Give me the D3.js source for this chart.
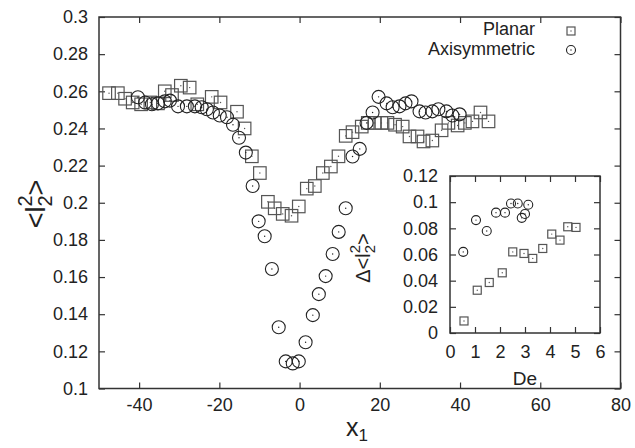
<!DOCTYPE html>
<html><head><meta charset="utf-8">
<script src="https://cdn.jsdelivr.net/npm/d3@7"></script>
<style>body{margin:0;background:#fff}svg{display:block}text{font-family:"Liberation Sans",Arial,sans-serif;fill:#222}</style>
</head><body>
<svg id="c" width="635" height="448"></svg>
<script>
// Main plot data: Planar (squares)
const planarX = [-47.5,-45.3,-43.5,-41.6,-39.5,-37.2,-35.3,-33.6,-31.8,-29.6,-27.4,-25.5,-21.9,-19.7,-15.6,-13.7,-11.9,-9.9,-7.9,-6.2,-4.2,-2.0,-0.2,1.8,3.8,5.8,7.8,9.7,11.5,13.2,15.5,17.0,18.7,20.4,21.9,23.8,25.7,27.4,29.4,30.9,33.1,35.4,37.1,39.4,41.2,43.1,45.1,47.1];
const planarY = [0.259,0.259,0.256,0.254,0.253,0.254,0.2535,0.260,0.258,0.263,0.262,0.253,0.257,0.254,0.249,0.240,0.225,0.216,0.2005,0.197,0.194,0.193,0.198,0.2076,0.209,0.216,0.2195,0.225,0.236,0.238,0.241,0.243,0.243,0.243,0.243,0.242,0.241,0.2357,0.2357,0.233,0.2335,0.239,0.243,0.2416,0.243,0.2438,0.2486,0.2438];
// Axisymmetric (circles)
const axiX = [-40.3,-38.5,-36.8,-35.3,-33.6,-32.3,-30.3,-28.1,-26.1,-24.4,-23.1,-21.6,-19.9,-18.1,-16.6,-15.1,-13.4,-11.7,-10.2,-8.7,-6.9,-5.2,-3.45,-1.7,-0.2,1.5,3.3,4.8,6.5,8.25,9.75,11.5,13.2,15.0,16.7,18.2,19.7,21.7,23.2,24.9,26.4,27.9,29.9,31.4,33.1,34.6,36.6,38.1,39.9];
const axiY = [0.2568,0.254,0.253,0.2535,0.2546,0.255,0.2519,0.2519,0.2519,0.2514,0.2503,0.2486,0.247,0.246,0.242,0.235,0.227,0.209,0.190,0.182,0.1643,0.133,0.1146,0.1135,0.1146,0.1249,0.1395,0.1508,0.1605,0.1724,0.1843,0.197,0.2249,0.229,0.243,0.2486,0.257,0.2535,0.2514,0.2519,0.2535,0.2546,0.2492,0.2486,0.2492,0.2503,0.2492,0.247,0.2476];
// Inset data
const insetPlanarDe = [0.56,1.09,1.57,2.09,2.51,2.96,3.31,3.71,4.07,4.4,4.71,5.04];
const insetPlanarD = [0.0092,0.0327,0.0386,0.046,0.062,0.0608,0.057,0.0646,0.0756,0.071,0.0812,0.0807];
const insetAxiDe = [0.53,1.04,1.47,1.84,2.2,2.44,2.71,2.87,3.0,3.13];
const insetAxiD = [0.062,0.0863,0.078,0.092,0.092,0.099,0.099,0.088,0.091,0.098];
// Ticks
const mainXTicks = [-40,-20,0,20,40,60,80];
const mainYTicks = [0.1,0.12,0.14,0.16,0.18,0.2,0.22,0.24,0.26,0.28,0.3];
const insetXTicks = [0,1,2,3,4,5,6];
const insetYTicks = [0,0.02,0.04,0.06,0.08,0.1,0.12];
const legendLabels = ["Planar","Axisymmetric"];

const svg = d3.select("#c");
const M = {l:99, r:620.5, t:17, b:388.5};
const x = d3.scaleLinear([-50,80],[M.l,M.r]);
const y = d3.scaleLinear([0.1,0.3],[M.b,M.t]);
const I = {l:450, r:600, t:176, b:333};
const ix = d3.scaleLinear([0,6],[I.l,I.r]);
const iy = d3.scaleLinear([0,0.12],[I.b,I.t]);

const sqCol = "#555", ciCol = "#222";
const fmt = d => String(+d.toFixed(2));

function styleAxis(g, fs){
  g.select(".domain").remove();
  g.selectAll(".tick line").attr("stroke","#333").attr("stroke-width",1.2);
  g.selectAll(".tick text").attr("font-size",fs).attr("fill","#222").attr("font-family","Liberation Sans, Arial, sans-serif");
}
function frame(sx, sy, xt, yt, box, fs, padX, padY, fmtX, fmtY){
  svg.append("g").attr("transform",`translate(0,${box.b})`)
    .call(d3.axisBottom(sx).tickValues(xt).tickSize(-6).tickPadding(padX).tickFormat(fmtX)).call(g=>styleAxis(g,fs));
  svg.append("g").attr("transform",`translate(0,${box.t})`)
    .call(d3.axisTop(sx).tickValues(xt).tickSize(-6).tickFormat("")).call(g=>styleAxis(g,fs));
  svg.append("g").attr("transform",`translate(${box.l},0)`)
    .call(d3.axisLeft(sy).tickValues(yt).tickSize(-6).tickPadding(padY).tickFormat(fmtY)).call(g=>styleAxis(g,fs));
  svg.append("g").attr("transform",`translate(${box.r},0)`)
    .call(d3.axisRight(sy).tickValues(yt).tickSize(-6).tickFormat("")).call(g=>styleAxis(g,fs));
  svg.append("rect").attr("x",box.l).attr("y",box.t).attr("width",box.r-box.l).attr("height",box.b-box.t)
    .attr("fill","none").attr("stroke","#333").attr("stroke-width",1.5);
}

function squares(g, xs, ys, sx, sy, s){
  const sel = g.selectAll(null).data(xs.map((v,i)=>[v,ys[i]])).enter();
  sel.append("rect").attr("x",d=>sx(d[0])-s/2).attr("y",d=>sy(d[1])-s/2).attr("width",s).attr("height",s)
    .attr("fill","none").attr("stroke",sqCol).attr("stroke-width",1.2);
  sel.append("circle").attr("cx",d=>sx(d[0])).attr("cy",d=>sy(d[1])).attr("r",0.7).attr("fill",sqCol);
}
function circles(g, xs, ys, sx, sy, r){
  const sel = g.selectAll(null).data(xs.map((v,i)=>[v,ys[i]])).enter();
  sel.append("circle").attr("cx",d=>sx(d[0])).attr("cy",d=>sy(d[1])).attr("r",r)
    .attr("fill","none").attr("stroke",ciCol).attr("stroke-width",1.1);
  sel.append("circle").attr("cx",d=>sx(d[0])).attr("cy",d=>sy(d[1])).attr("r",0.7).attr("fill",ciCol);
}

frame(x, y, mainXTicks, mainYTicks, M, 18, 10, 11, d=>String(d), fmt);

const gm = svg.append("g");
squares(gm, planarX, planarY, x, y, 12.5);
circles(gm, axiX, axiY, x, y, 6.5);

// Inset
svg.append("rect").attr("x",I.l).attr("y",I.t).attr("width",I.r-I.l).attr("height",I.b-I.t).attr("fill","#fff");
frame(ix, iy, insetXTicks, insetYTicks, I, 18, 12, 12, d=>String(d), fmt);
const gi = svg.append("g");
squares(gi, insetPlanarDe, insetPlanarD, ix, iy, 8);
circles(gi, insetAxiDe, insetAxiD, ix, iy, 4.5);

// Legend
const legY = [35, 55];
legendLabels.forEach((t,i)=>{
  svg.append("text").attr("x",535).attr("y",legY[i]).attr("text-anchor","end").attr("font-size",18).text(t);
});
const lg = svg.append("g");
squares(lg, [0], [0], ()=>571, ()=>31, 8);
circles(lg, [0], [0], ()=>571, ()=>50, 4.5);

// Axis labels
const xl = svg.append("text").attr("x",357).attr("y",436).attr("text-anchor","middle").attr("font-size",25);
xl.append("tspan").text("x");
xl.append("tspan").attr("font-size",17).attr("dy",5).text("1");

const yl = svg.append("text").attr("transform","translate(45,204) rotate(-90)").attr("text-anchor","middle").attr("font-size",27);
yl.append("tspan").text("<l");
yl.append("tspan").attr("font-size",20).attr("dy",7).text("2");
yl.append("tspan").attr("font-size",20).attr("dx",-11.1).attr("dy",-20).text("2");
yl.append("tspan").attr("dy",13).text(">");

const dl = svg.append("text").attr("x",525).attr("y",385).attr("text-anchor","middle").attr("font-size",19).text("De");

const il = svg.append("text").attr("transform","translate(370,258) rotate(-90)").attr("text-anchor","middle").attr("font-size",20);
il.append("tspan").text("\u0394<l");
il.append("tspan").attr("font-size",15).attr("dy",5).text("2");
il.append("tspan").attr("font-size",15).attr("dx",-8.3).attr("dy",-15).text("2");
il.append("tspan").attr("dy",10).text(">");
</script>
</body></html>
